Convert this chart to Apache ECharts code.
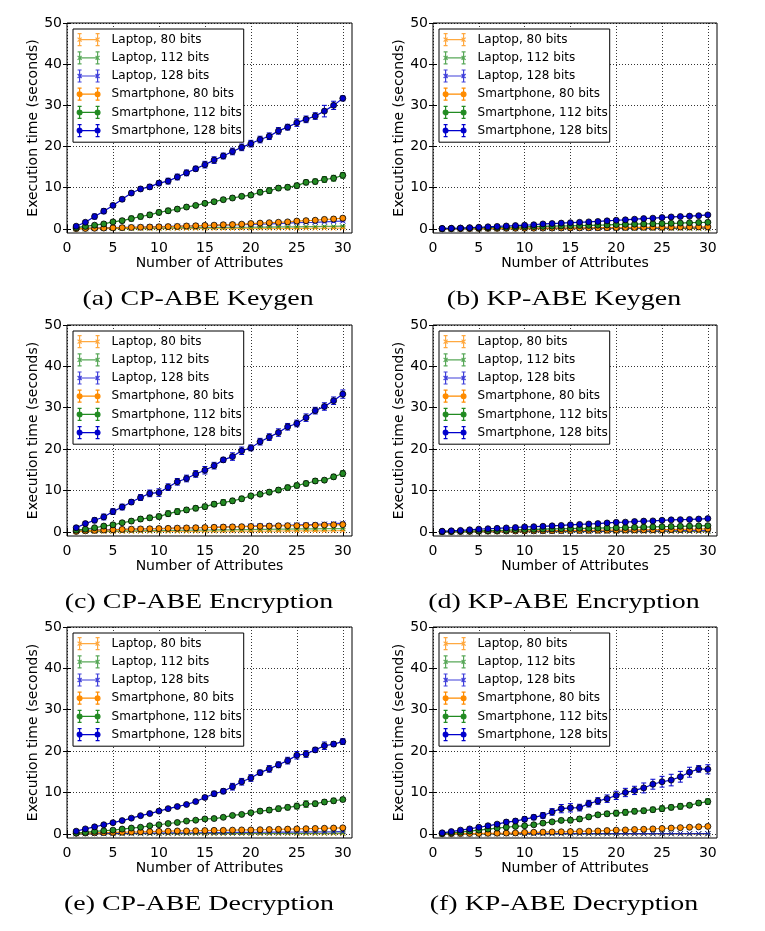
<!DOCTYPE html>
<html>
<head>
<meta charset="utf-8">
<script src="https://cdn.jsdelivr.net/npm/echarts@6/dist/echarts.min.js"></script>
<style>
  html, body { margin: 0; padding: 0; background: #fff; }
  #chart { width: 765px; height: 931px; }
</style>
</head>
<body>
<div id="chart"></div>
<script>
(function () {
  // x values (number of attributes)
  var attrs = [1, 2, 3, 4, 5, 6, 7, 8, 9, 10, 11, 12, 13, 14, 15, 16, 17, 18, 19, 20, 21, 22, 23, 24, 25, 26, 27, 28, 29, 30];
  var xTicks = [0, 5, 10, 15, 20, 25, 30];
  var yTicks = [0, 10, 20, 30, 40, 50];
  var seriesNames = ["Laptop, 80 bits", "Laptop, 112 bits", "Laptop, 128 bits", "Smartphone, 80 bits", "Smartphone, 112 bits", "Smartphone, 128 bits"];
  var captions = ["(a) CP-ABE Keygen", "(b) KP-ABE Keygen", "(c) CP-ABE Encryption", "(d) KP-ABE Encryption", "(e) CP-ABE Decryption", "(f) KP-ABE Decryption"];

  // (a) CP-ABE Keygen
  var aLap80 = [0.02, 0.02, 0.03, 0.03, 0.04, 0.04, 0.05, 0.05, 0.06, 0.06, 0.07, 0.07, 0.08, 0.08, 0.09, 0.09, 0.1, 0.1, 0.11, 0.11, 0.12, 0.12, 0.13, 0.13, 0.14, 0.14, 0.15, 0.15, 0.16, 0.17];
  var aLap112 = [0.05, 0.05, 0.1, 0.1, 0.1, 0.15, 0.15, 0.2, 0.2, 0.2, 0.25, 0.25, 0.3, 0.3, 0.3, 0.35, 0.35, 0.4, 0.4, 0.4, 0.45, 0.45, 0.5, 0.5, 0.5, 0.55, 0.55, 0.6, 0.6, 0.65];
  var aLap128 = [0.1, 0.15, 0.2, 0.25, 0.3, 0.35, 0.4, 0.45, 0.5, 0.55, 0.6, 0.65, 0.7, 0.75, 0.8, 0.85, 0.9, 0.95, 1.0, 1.1, 1.15, 1.2, 1.3, 1.4, 1.5, 1.55, 1.6, 1.7, 1.8, 1.9];
  var aPhone80 = [0.05, 0.1, 0.15, 0.2, 0.25, 0.3, 0.35, 0.4, 0.45, 0.5, 0.55, 0.6, 0.7, 0.75, 0.85, 0.9, 1.0, 1.05, 1.15, 1.3, 1.4, 1.5, 1.6, 1.7, 1.9, 2.0, 2.1, 2.3, 2.4, 2.6];
  var aPhone112 = [0.3, 0.6, 0.9, 1.2, 1.7, 2.0, 2.5, 3.0, 3.4, 4.0, 4.4, 4.8, 5.3, 5.7, 6.2, 6.6, 7.1, 7.5, 7.9, 8.2, 8.9, 9.3, 9.9, 10.1, 10.5, 11.3, 11.5, 12.0, 12.3, 13.0];
  var aPhone128 = [0.65, 1.6, 3.0, 4.3, 5.7, 7.2, 8.7, 9.7, 10.2, 11.1, 11.6, 12.6, 13.6, 14.6, 15.6, 16.7, 17.7, 18.8, 19.8, 20.7, 21.7, 22.5, 23.8, 24.7, 25.8, 26.6, 27.4, 28.6, 30.0, 31.7];
  var aLap80Err = [0.05, 0.05, 0.05, 0.05, 0.05, 0.05, 0.05, 0.05, 0.05, 0.05, 0.05, 0.05, 0.05, 0.05, 0.05, 0.05, 0.05, 0.05, 0.05, 0.05, 0.05, 0.05, 0.05, 0.05, 0.05, 0.05, 0.05, 0.05, 0.05, 0.05];
  var aLap112Err = [0.05, 0.05, 0.05, 0.05, 0.05, 0.05, 0.1, 0.1, 0.1, 0.1, 0.1, 0.1, 0.1, 0.1, 0.1, 0.1, 0.1, 0.1, 0.1, 0.1, 0.1, 0.1, 0.1, 0.1, 0.1, 0.1, 0.1, 0.1, 0.1, 0.1];
  var aLap128Err = [0.05, 0.05, 0.05, 0.1, 0.1, 0.1, 0.1, 0.1, 0.1, 0.1, 0.1, 0.1, 0.1, 0.1, 0.1, 0.15, 0.15, 0.15, 0.15, 0.15, 0.15, 0.15, 0.15, 0.2, 0.2, 0.2, 0.2, 0.2, 0.2, 0.2];
  var aPhone80Err = [0.1, 0.1, 0.1, 0.1, 0.1, 0.1, 0.1, 0.15, 0.15, 0.15, 0.15, 0.15, 0.2, 0.2, 0.2, 0.2, 0.2, 0.2, 0.25, 0.25, 0.3, 0.3, 0.3, 0.3, 0.4, 0.4, 0.4, 0.5, 0.5, 0.5];
  var aPhone112Err = [0.2, 0.3, 0.4, 0.4, 0.4, 0.5, 0.6, 0.6, 0.6, 0.6, 0.6, 0.5, 0.5, 0.4, 0.5, 0.5, 0.5, 0.5, 0.5, 0.5, 0.6, 0.7, 0.6, 0.6, 0.6, 0.6, 0.6, 0.7, 0.7, 0.7];
  var aPhone128Err = [0.3, 0.4, 0.6, 0.6, 0.5, 0.5, 0.5, 0.5, 0.6, 0.6, 0.7, 0.7, 0.7, 0.6, 0.8, 0.8, 0.7, 0.8, 0.8, 0.8, 0.8, 0.8, 0.8, 0.7, 0.9, 0.8, 0.8, 1.4, 1.0, 0.6];

  // (b) KP-ABE Keygen
  var bLap80 = [0.01, 0.01, 0.01, 0.01, 0.01, 0.02, 0.02, 0.02, 0.02, 0.02, 0.03, 0.03, 0.03, 0.03, 0.03, 0.04, 0.04, 0.04, 0.04, 0.04, 0.05, 0.05, 0.05, 0.05, 0.05, 0.06, 0.06, 0.06, 0.06, 0.06];
  var bLap112 = [0.01, 0.01, 0.02, 0.02, 0.03, 0.03, 0.04, 0.04, 0.05, 0.05, 0.06, 0.06, 0.07, 0.07, 0.08, 0.08, 0.09, 0.09, 0.1, 0.1, 0.11, 0.11, 0.12, 0.12, 0.13, 0.13, 0.14, 0.14, 0.15, 0.15];
  var bLap128 = [0.01, 0.02, 0.03, 0.04, 0.05, 0.06, 0.07, 0.08, 0.09, 0.1, 0.11, 0.12, 0.13, 0.14, 0.15, 0.16, 0.17, 0.18, 0.19, 0.2, 0.21, 0.22, 0.23, 0.24, 0.25, 0.26, 0.27, 0.28, 0.29, 0.3];
  var bPhone80 = [0.02, 0.03, 0.05, 0.06, 0.08, 0.1, 0.11, 0.13, 0.14, 0.16, 0.17, 0.19, 0.2, 0.22, 0.24, 0.25, 0.27, 0.29, 0.3, 0.32, 0.34, 0.35, 0.37, 0.39, 0.4, 0.42, 0.44, 0.46, 0.48, 0.5];
  var bPhone112 = [0.05, 0.1, 0.15, 0.2, 0.25, 0.3, 0.35, 0.4, 0.45, 0.5, 0.55, 0.6, 0.65, 0.7, 0.75, 0.8, 0.85, 0.9, 0.95, 1.05, 1.1, 1.15, 1.2, 1.25, 1.3, 1.35, 1.4, 1.5, 1.55, 1.6];
  var bPhone128 = [0.1, 0.15, 0.2, 0.3, 0.4, 0.5, 0.6, 0.7, 0.8, 0.9, 1.0, 1.2, 1.3, 1.4, 1.5, 1.6, 1.7, 1.8, 1.95, 2.1, 2.2, 2.35, 2.5, 2.6, 2.75, 2.9, 3.0, 3.1, 3.2, 3.4];
  var bLap80Err = [0.02, 0.02, 0.02, 0.02, 0.02, 0.02, 0.02, 0.02, 0.02, 0.02, 0.02, 0.02, 0.02, 0.02, 0.02, 0.02, 0.02, 0.02, 0.02, 0.02, 0.02, 0.02, 0.02, 0.02, 0.02, 0.02, 0.02, 0.02, 0.02, 0.02];
  var bLap112Err = [0.02, 0.02, 0.02, 0.02, 0.02, 0.03, 0.03, 0.03, 0.03, 0.03, 0.03, 0.03, 0.03, 0.03, 0.03, 0.04, 0.04, 0.04, 0.04, 0.04, 0.04, 0.04, 0.04, 0.04, 0.04, 0.05, 0.05, 0.05, 0.05, 0.05];
  var bLap128Err = [0.02, 0.02, 0.03, 0.03, 0.03, 0.03, 0.04, 0.04, 0.04, 0.04, 0.05, 0.05, 0.05, 0.05, 0.05, 0.06, 0.06, 0.06, 0.06, 0.06, 0.07, 0.07, 0.07, 0.07, 0.07, 0.08, 0.08, 0.08, 0.08, 0.08];
  var bPhone80Err = [0.05, 0.05, 0.05, 0.05, 0.05, 0.05, 0.05, 0.05, 0.05, 0.05, 0.05, 0.05, 0.05, 0.05, 0.05, 0.1, 0.1, 0.1, 0.1, 0.1, 0.1, 0.1, 0.1, 0.1, 0.1, 0.1, 0.1, 0.1, 0.1, 0.1];
  var bPhone112Err = [0.05, 0.05, 0.05, 0.05, 0.05, 0.1, 0.1, 0.1, 0.1, 0.1, 0.1, 0.1, 0.1, 0.1, 0.1, 0.1, 0.1, 0.15, 0.15, 0.15, 0.15, 0.15, 0.15, 0.15, 0.15, 0.15, 0.2, 0.2, 0.2, 0.2];
  var bPhone128Err = [0.05, 0.05, 0.1, 0.1, 0.1, 0.1, 0.1, 0.1, 0.15, 0.15, 0.15, 0.15, 0.15, 0.15, 0.15, 0.15, 0.15, 0.2, 0.2, 0.2, 0.2, 0.2, 0.2, 0.2, 0.2, 0.2, 0.2, 0.2, 0.2, 0.25];

  // (c) CP-ABE Encryption
  var cLap80 = [0.03, 0.04, 0.05, 0.05, 0.06, 0.07, 0.08, 0.09, 0.1, 0.1, 0.11, 0.12, 0.13, 0.14, 0.15, 0.15, 0.16, 0.17, 0.18, 0.19, 0.2, 0.2, 0.21, 0.22, 0.23, 0.24, 0.25, 0.26, 0.27, 0.28];
  var cLap112 = [0.1, 0.12, 0.15, 0.17, 0.2, 0.22, 0.25, 0.27, 0.3, 0.32, 0.35, 0.37, 0.4, 0.42, 0.45, 0.47, 0.5, 0.52, 0.55, 0.57, 0.6, 0.62, 0.65, 0.67, 0.7, 0.72, 0.74, 0.76, 0.78, 0.8];
  var cLap128 = [0.3, 0.4, 0.45, 0.5, 0.55, 0.6, 0.65, 0.7, 0.75, 0.8, 0.85, 0.9, 0.95, 1.0, 1.05, 1.1, 1.2, 1.25, 1.3, 1.4, 1.45, 1.5, 1.55, 1.6, 1.7, 1.75, 1.8, 1.9, 2.0, 2.1];
  var cPhone80 = [0.1, 0.25, 0.35, 0.45, 0.5, 0.6, 0.65, 0.7, 0.75, 0.8, 0.85, 0.9, 0.95, 1.0, 1.05, 1.1, 1.15, 1.2, 1.25, 1.3, 1.35, 1.4, 1.45, 1.5, 1.5, 1.55, 1.6, 1.65, 1.7, 1.75];
  var cPhone112 = [0.4, 0.65, 1.0, 1.4, 1.7, 2.2, 2.6, 3.1, 3.4, 3.7, 4.4, 4.9, 5.3, 5.7, 6.1, 6.7, 7.1, 7.5, 8.0, 8.7, 9.1, 9.6, 10.1, 10.7, 11.2, 11.7, 12.3, 12.5, 13.3, 14.1];
  var cPhone128 = [1.0, 2.0, 2.8, 3.6, 4.9, 6.0, 7.2, 8.3, 9.3, 9.5, 10.8, 12.1, 12.9, 14.0, 14.9, 16.0, 17.4, 18.2, 19.6, 20.3, 21.8, 22.9, 24.0, 25.4, 26.2, 27.6, 29.3, 30.3, 31.7, 33.3];
  var cLap80Err = [0.05, 0.05, 0.05, 0.05, 0.05, 0.05, 0.05, 0.05, 0.05, 0.05, 0.05, 0.05, 0.05, 0.05, 0.05, 0.05, 0.05, 0.05, 0.05, 0.05, 0.05, 0.05, 0.05, 0.05, 0.05, 0.05, 0.05, 0.05, 0.05, 0.05];
  var cLap112Err = [0.05, 0.05, 0.05, 0.05, 0.05, 0.1, 0.1, 0.1, 0.1, 0.1, 0.1, 0.1, 0.1, 0.1, 0.1, 0.1, 0.1, 0.1, 0.1, 0.1, 0.1, 0.1, 0.1, 0.1, 0.1, 0.1, 0.1, 0.1, 0.1, 0.1];
  var cLap128Err = [0.1, 0.1, 0.1, 0.1, 0.1, 0.1, 0.1, 0.1, 0.1, 0.1, 0.15, 0.15, 0.15, 0.15, 0.15, 0.15, 0.15, 0.15, 0.15, 0.15, 0.2, 0.2, 0.2, 0.2, 0.2, 0.2, 0.2, 0.2, 0.2, 0.2];
  var cPhone80Err = [0.1, 0.1, 0.1, 0.1, 0.1, 0.15, 0.15, 0.15, 0.15, 0.15, 0.15, 0.15, 0.15, 0.15, 0.15, 0.15, 0.2, 0.2, 0.2, 0.2, 0.2, 0.2, 0.2, 0.2, 0.2, 0.2, 0.2, 0.2, 0.2, 0.2];
  var cPhone112Err = [0.2, 0.3, 0.3, 0.4, 0.4, 0.4, 0.5, 0.6, 0.6, 0.6, 0.7, 0.7, 0.6, 0.6, 0.6, 0.6, 0.7, 0.6, 0.6, 0.5, 0.5, 0.6, 0.6, 0.6, 0.6, 0.6, 0.6, 0.5, 0.6, 0.7];
  var cPhone128Err = [0.4, 0.5, 0.6, 0.7, 0.7, 0.7, 0.6, 0.7, 0.8, 0.9, 0.8, 0.8, 0.8, 0.8, 0.9, 0.8, 0.6, 0.9, 0.9, 0.7, 0.8, 0.8, 0.9, 0.8, 0.8, 0.9, 0.8, 0.9, 0.9, 1.0];

  // (d) KP-ABE Encryption
  var dLap80 = [0.01, 0.01, 0.01, 0.01, 0.02, 0.02, 0.02, 0.02, 0.02, 0.03, 0.03, 0.03, 0.03, 0.03, 0.04, 0.04, 0.04, 0.04, 0.04, 0.05, 0.05, 0.05, 0.05, 0.05, 0.06, 0.06, 0.06, 0.06, 0.06, 0.07];
  var dLap112 = [0.01, 0.01, 0.02, 0.02, 0.03, 0.03, 0.04, 0.04, 0.05, 0.05, 0.06, 0.06, 0.07, 0.07, 0.08, 0.08, 0.09, 0.09, 0.1, 0.1, 0.11, 0.11, 0.12, 0.12, 0.13, 0.13, 0.14, 0.14, 0.15, 0.15];
  var dLap128 = [0.02, 0.03, 0.04, 0.05, 0.06, 0.07, 0.08, 0.09, 0.1, 0.11, 0.12, 0.13, 0.14, 0.15, 0.16, 0.17, 0.18, 0.19, 0.2, 0.21, 0.22, 0.23, 0.24, 0.25, 0.26, 0.27, 0.28, 0.29, 0.3, 0.31];
  var dPhone80 = [0.05, 0.07, 0.09, 0.11, 0.13, 0.15, 0.17, 0.19, 0.21, 0.23, 0.25, 0.27, 0.29, 0.31, 0.33, 0.35, 0.37, 0.39, 0.41, 0.43, 0.45, 0.47, 0.49, 0.51, 0.53, 0.56, 0.6, 0.63, 0.66, 0.7];
  var dPhone112 = [0.05, 0.1, 0.15, 0.2, 0.25, 0.3, 0.35, 0.4, 0.5, 0.55, 0.6, 0.65, 0.7, 0.75, 0.8, 0.85, 0.85, 0.9, 0.95, 1.0, 1.05, 1.1, 1.15, 1.2, 1.25, 1.3, 1.35, 1.4, 1.45, 1.5];
  var dPhone128 = [0.15, 0.25, 0.35, 0.5, 0.65, 0.75, 0.85, 0.95, 1.05, 1.2, 1.25, 1.35, 1.45, 1.55, 1.7, 1.8, 1.9, 2.0, 2.15, 2.3, 2.35, 2.5, 2.6, 2.65, 2.8, 2.9, 2.95, 3.0, 3.1, 3.2];
  var dLap80Err = [0.02, 0.02, 0.02, 0.02, 0.02, 0.02, 0.02, 0.02, 0.02, 0.02, 0.02, 0.02, 0.02, 0.02, 0.02, 0.02, 0.02, 0.02, 0.02, 0.02, 0.02, 0.02, 0.02, 0.02, 0.02, 0.02, 0.02, 0.02, 0.02, 0.02];
  var dLap112Err = [0.02, 0.02, 0.02, 0.02, 0.02, 0.03, 0.03, 0.03, 0.03, 0.03, 0.03, 0.03, 0.03, 0.03, 0.03, 0.04, 0.04, 0.04, 0.04, 0.04, 0.04, 0.04, 0.04, 0.04, 0.04, 0.05, 0.05, 0.05, 0.05, 0.05];
  var dLap128Err = [0.02, 0.02, 0.03, 0.03, 0.03, 0.03, 0.04, 0.04, 0.04, 0.04, 0.05, 0.05, 0.05, 0.05, 0.05, 0.06, 0.06, 0.06, 0.06, 0.06, 0.07, 0.07, 0.07, 0.07, 0.07, 0.08, 0.08, 0.08, 0.08, 0.08];
  var dPhone80Err = [0.05, 0.05, 0.05, 0.05, 0.05, 0.05, 0.05, 0.05, 0.05, 0.05, 0.05, 0.05, 0.05, 0.05, 0.05, 0.1, 0.1, 0.1, 0.1, 0.1, 0.1, 0.1, 0.1, 0.1, 0.1, 0.1, 0.1, 0.1, 0.1, 0.1];
  var dPhone112Err = [0.05, 0.05, 0.05, 0.05, 0.05, 0.1, 0.1, 0.1, 0.1, 0.1, 0.1, 0.1, 0.1, 0.1, 0.1, 0.1, 0.1, 0.15, 0.15, 0.15, 0.15, 0.15, 0.15, 0.15, 0.15, 0.15, 0.2, 0.2, 0.2, 0.2];
  var dPhone128Err = [0.05, 0.05, 0.1, 0.1, 0.1, 0.1, 0.1, 0.1, 0.15, 0.15, 0.15, 0.15, 0.15, 0.15, 0.15, 0.15, 0.15, 0.2, 0.2, 0.2, 0.2, 0.2, 0.2, 0.2, 0.2, 0.2, 0.2, 0.2, 0.2, 0.25];

  // (e) CP-ABE Decryption
  var eLap80 = [0.01, 0.01, 0.01, 0.02, 0.02, 0.02, 0.02, 0.03, 0.03, 0.03, 0.03, 0.03, 0.04, 0.04, 0.04, 0.04, 0.04, 0.05, 0.05, 0.05, 0.05, 0.05, 0.05, 0.06, 0.06, 0.06, 0.06, 0.06, 0.06, 0.07];
  var eLap112 = [0.02, 0.02, 0.03, 0.03, 0.04, 0.04, 0.05, 0.05, 0.06, 0.06, 0.07, 0.07, 0.08, 0.08, 0.09, 0.09, 0.1, 0.1, 0.11, 0.11, 0.12, 0.12, 0.13, 0.13, 0.14, 0.14, 0.15, 0.15, 0.16, 0.16];
  var eLap128 = [0.05, 0.06, 0.08, 0.1, 0.12, 0.14, 0.15, 0.17, 0.19, 0.2, 0.22, 0.24, 0.25, 0.27, 0.29, 0.3, 0.32, 0.34, 0.35, 0.37, 0.39, 0.4, 0.42, 0.44, 0.45, 0.47, 0.49, 0.5, 0.52, 0.55];
  var ePhone80 = [0.15, 0.2, 0.25, 0.3, 0.35, 0.4, 0.45, 0.5, 0.55, 0.6, 0.65, 0.7, 0.7, 0.75, 0.8, 0.85, 0.85, 0.9, 0.95, 0.95, 1.0, 1.05, 1.1, 1.15, 1.2, 1.25, 1.3, 1.35, 1.4, 1.45];
  var ePhone112 = [0.2, 0.35, 0.6, 0.75, 0.9, 1.15, 1.4, 1.6, 1.95, 2.2, 2.5, 2.75, 3.1, 3.3, 3.6, 3.7, 4.0, 4.45, 4.7, 5.1, 5.5, 5.75, 6.1, 6.4, 6.7, 7.2, 7.3, 7.7, 8.0, 8.3];
  var ePhone128 = [0.65, 1.2, 1.7, 2.2, 2.7, 3.2, 3.8, 4.4, 4.9, 5.5, 6.1, 6.6, 7.1, 7.8, 8.8, 9.7, 10.3, 11.4, 12.6, 13.5, 14.8, 15.7, 16.7, 17.7, 19.0, 19.3, 20.3, 21.3, 21.7, 22.3];
  var eLap80Err = [0.02, 0.02, 0.02, 0.02, 0.02, 0.02, 0.02, 0.02, 0.02, 0.02, 0.02, 0.02, 0.02, 0.02, 0.02, 0.02, 0.02, 0.02, 0.02, 0.02, 0.02, 0.02, 0.02, 0.02, 0.02, 0.02, 0.02, 0.02, 0.02, 0.02];
  var eLap112Err = [0.02, 0.02, 0.02, 0.02, 0.02, 0.03, 0.03, 0.03, 0.03, 0.03, 0.03, 0.03, 0.03, 0.03, 0.03, 0.04, 0.04, 0.04, 0.04, 0.04, 0.04, 0.04, 0.04, 0.04, 0.04, 0.05, 0.05, 0.05, 0.05, 0.05];
  var eLap128Err = [0.05, 0.05, 0.05, 0.05, 0.05, 0.05, 0.05, 0.05, 0.05, 0.05, 0.1, 0.1, 0.1, 0.1, 0.1, 0.1, 0.1, 0.1, 0.1, 0.1, 0.1, 0.1, 0.1, 0.1, 0.1, 0.1, 0.1, 0.1, 0.1, 0.1];
  var ePhone80Err = [0.05, 0.05, 0.05, 0.1, 0.1, 0.1, 0.1, 0.1, 0.1, 0.1, 0.1, 0.1, 0.1, 0.15, 0.15, 0.15, 0.15, 0.15, 0.15, 0.15, 0.2, 0.2, 0.2, 0.2, 0.2, 0.2, 0.2, 0.2, 0.2, 0.2];
  var ePhone112Err = [0.1, 0.1, 0.2, 0.2, 0.2, 0.2, 0.2, 0.2, 0.2, 0.3, 0.3, 0.3, 0.3, 0.3, 0.4, 0.3, 0.3, 0.3, 0.4, 0.4, 0.5, 0.6, 0.6, 0.6, 0.7, 0.8, 0.6, 0.6, 0.6, 0.5];
  var ePhone128Err = [0.3, 0.3, 0.3, 0.3, 0.3, 0.3, 0.3, 0.3, 0.3, 0.3, 0.3, 0.3, 0.3, 0.3, 0.4, 0.6, 0.6, 0.8, 0.8, 0.8, 0.6, 0.8, 0.7, 0.8, 0.9, 0.8, 0.6, 0.9, 0.6, 0.7];

  // (f) KP-ABE Decryption
  var fLap80 = [0.01, 0.01, 0.01, 0.01, 0.01, 0.01, 0.01, 0.01, 0.01, 0.01, 0.01, 0.01, 0.01, 0.01, 0.01, 0.01, 0.01, 0.01, 0.01, 0.01, 0.01, 0.01, 0.01, 0.01, 0.01, 0.01, 0.01, 0.01, 0.01, 0.01];
  var fLap112 = [0.02, 0.02, 0.02, 0.02, 0.02, 0.02, 0.02, 0.02, 0.02, 0.02, 0.02, 0.02, 0.02, 0.02, 0.02, 0.02, 0.02, 0.02, 0.02, 0.02, 0.03, 0.03, 0.03, 0.03, 0.03, 0.03, 0.03, 0.03, 0.03, 0.03];
  var fLap128 = [0.03, 0.03, 0.03, 0.03, 0.03, 0.04, 0.04, 0.04, 0.04, 0.04, 0.04, 0.04, 0.04, 0.04, 0.04, 0.05, 0.05, 0.05, 0.05, 0.05, 0.05, 0.05, 0.05, 0.05, 0.05, 0.06, 0.06, 0.06, 0.06, 0.06];
  var fPhone80 = [0.02, 0.04, 0.06, 0.08, 0.1, 0.12, 0.15, 0.18, 0.22, 0.35, 0.38, 0.42, 0.46, 0.5, 0.55, 0.6, 0.65, 0.7, 0.8, 0.9, 0.95, 1.05, 1.1, 1.2, 1.3, 1.4, 1.5, 1.6, 1.7, 1.8];
  var fPhone112 = [0.1, 0.25, 0.4, 0.65, 0.9, 1.15, 1.4, 1.6, 1.8, 1.95, 2.2, 2.6, 2.9, 3.25, 3.3, 3.6, 4.1, 4.6, 4.85, 5.0, 5.2, 5.45, 5.6, 5.85, 6.1, 6.4, 6.65, 6.9, 7.45, 7.8];
  var fPhone128 = [0.25, 0.55, 0.9, 1.2, 1.6, 1.95, 2.35, 2.85, 3.1, 3.55, 4.0, 4.45, 5.3, 6.1, 6.3, 6.35, 7.3, 7.95, 8.5, 9.3, 10.0, 10.5, 11.1, 12.0, 12.6, 13.0, 13.8, 14.9, 15.7, 15.6];
  var fLap80Err = [0.01, 0.01, 0.01, 0.01, 0.01, 0.01, 0.01, 0.01, 0.01, 0.01, 0.01, 0.01, 0.01, 0.01, 0.01, 0.01, 0.01, 0.01, 0.01, 0.01, 0.01, 0.01, 0.01, 0.01, 0.01, 0.01, 0.01, 0.01, 0.01, 0.01];
  var fLap112Err = [0.02, 0.02, 0.02, 0.02, 0.02, 0.02, 0.02, 0.02, 0.02, 0.02, 0.02, 0.02, 0.02, 0.02, 0.02, 0.02, 0.02, 0.02, 0.02, 0.02, 0.02, 0.02, 0.02, 0.02, 0.02, 0.02, 0.02, 0.02, 0.02, 0.02];
  var fLap128Err = [0.02, 0.02, 0.02, 0.02, 0.02, 0.03, 0.03, 0.03, 0.03, 0.03, 0.03, 0.03, 0.03, 0.03, 0.03, 0.03, 0.03, 0.03, 0.03, 0.03, 0.03, 0.03, 0.03, 0.03, 0.03, 0.03, 0.03, 0.03, 0.03, 0.03];
  var fPhone80Err = [0.02, 0.02, 0.03, 0.03, 0.05, 0.05, 0.05, 0.05, 0.05, 0.1, 0.1, 0.1, 0.1, 0.1, 0.1, 0.1, 0.1, 0.1, 0.15, 0.15, 0.15, 0.15, 0.15, 0.15, 0.2, 0.2, 0.2, 0.2, 0.2, 0.2];
  var fPhone112Err = [0.1, 0.1, 0.2, 0.2, 0.3, 0.3, 0.3, 0.3, 0.3, 0.3, 0.4, 0.4, 0.4, 0.5, 0.6, 0.6, 0.5, 0.5, 0.6, 0.7, 0.7, 0.6, 0.6, 0.6, 0.7, 0.6, 0.7, 0.5, 0.6, 0.7];
  var fPhone128Err = [0.2, 0.3, 0.3, 0.4, 0.4, 0.4, 0.4, 0.5, 0.5, 0.6, 0.6, 0.7, 0.8, 1.0, 1.0, 0.8, 0.8, 0.8, 0.9, 1.0, 1.0, 1.0, 1.2, 1.2, 1.3, 1.4, 1.3, 1.2, 0.8, 1.1];

  var panelValues = [
    [aLap80, aLap112, aLap128, aPhone80, aPhone112, aPhone128],
    [bLap80, bLap112, bLap128, bPhone80, bPhone112, bPhone128],
    [cLap80, cLap112, cLap128, cPhone80, cPhone112, cPhone128],
    [dLap80, dLap112, dLap128, dPhone80, dPhone112, dPhone128],
    [eLap80, eLap112, eLap128, ePhone80, ePhone112, ePhone128],
    [fLap80, fLap112, fLap128, fPhone80, fPhone112, fPhone128]
  ];
  var panelErrors = [
    [aLap80Err, aLap112Err, aLap128Err, aPhone80Err, aPhone112Err, aPhone128Err],
    [bLap80Err, bLap112Err, bLap128Err, bPhone80Err, bPhone112Err, bPhone128Err],
    [cLap80Err, cLap112Err, cLap128Err, cPhone80Err, cPhone112Err, cPhone128Err],
    [dLap80Err, dLap112Err, dLap128Err, dPhone80Err, dPhone112Err, dPhone128Err],
    [eLap80Err, eLap112Err, eLap128Err, ePhone80Err, ePhone112Err, ePhone128Err],
    [fLap80Err, fLap112Err, fLap128Err, fPhone80Err, fPhone112Err, fPhone128Err]
  ];

  // layout
  var gridBoxes = [
    [67, 23, 285, 210], [433, 23, 284, 210],
    [67, 325, 285, 211], [433, 325, 284, 211],
    [67, 627, 285, 211], [433, 627, 284, 211]
  ];
  var captionPos = [[198, 299], [564, 299], [199, 602], [564, 602], [199, 904], [564, 904]];
  var colors = ["#ff8c00", "#228b22", "#0000cd"];
  var sans = "DejaVu Sans";

  var xMark = "path://M0,0L10,10M10,0L0,10";
  var boxPts = "M0,0L0,0M30,14L30,14";
  var barsIcon = "M3,7L21,7M3,1L3,13M1,1L5,1M1,13L5,13M21,1L21,13M19,1L23,1M19,13L23,13";
  var phoneIcon = "path://" + boxPts + barsIcon +
    "M0.6,7A2.4,2.4 0 1,0 5.4,7A2.4,2.4 0 1,0 0.6,7Z" +
    "M18.6,7A2.4,2.4 0 1,0 23.4,7A2.4,2.4 0 1,0 18.6,7Z";
  var lapIcon = "path://" + boxPts + barsIcon + "M1,5L5,9M1,9L5,5M19,5L23,9M19,9L23,5";

  function errorBar(color, alpha) {
    return function (params, api) {
      var x = api.value(0), y = api.value(1), e = api.value(2);
      var lo = api.coord([x, y - e]);
      var hi = api.coord([x, y + e]);
      var h = 2.5;
      var st = { stroke: color, lineWidth: 1, opacity: alpha };
      return {
        type: "group",
        children: [
          { type: "line", shape: { x1: lo[0], y1: lo[1], x2: hi[0], y2: hi[1] }, style: st },
          { type: "line", shape: { x1: lo[0] - h, y1: lo[1], x2: lo[0] + h, y2: lo[1] }, style: st },
          { type: "line", shape: { x1: hi[0] - h, y1: hi[1], x2: hi[0] + h, y2: hi[1] }, style: st }
        ]
      };
    };
  }

  var grids = [], xAxes = [], yAxes = [], series = [], legends = [], graphics = [];
  var gridLine = { show: true, lineStyle: { type: [1, 2], color: "#000", width: 0.8 } };
  var inTick = { show: true, inside: true, length: 4, lineStyle: { color: "#000", width: 1 } };

  panelValues.forEach(function (vals, i) {
    var g = gridBoxes[i];
    grids.push({
      left: g[0], top: g[1], width: g[2], height: g[3],
      show: true, borderColor: "#000", borderWidth: 1, backgroundColor: "transparent"
    });
    xAxes.push({
      gridIndex: i, type: "value", min: 0, max: 31, position: "bottom",
      name: "Number of Attributes", nameLocation: "middle", nameGap: 21,
      nameTextStyle: { fontFamily: sans, fontSize: 14, color: "#000" },
      axisLine: { show: false },
      axisTick: Object.assign({ customValues: xTicks }, inTick),
      axisLabel: { customValues: xTicks, margin: 8, fontFamily: sans, fontSize: 14, color: "#000" },
      splitLine: gridLine
    });
    xAxes.push({
      gridIndex: i, type: "value", min: 0, max: 31, position: "top",
      axisLine: { show: false },
      axisTick: Object.assign({ customValues: xTicks }, inTick),
      axisLabel: { show: false }, splitLine: { show: false }
    });
    yAxes.push({
      gridIndex: i, type: "value", min: -1, max: 50, position: "left",
      name: "Execution time (seconds)", nameLocation: "middle", nameGap: 22,
      nameTextStyle: { fontFamily: sans, fontSize: 14, color: "#000" },
      axisLine: { show: false },
      axisTick: Object.assign({ customValues: yTicks }, inTick),
      axisLabel: { customValues: yTicks, margin: 5, fontFamily: sans, fontSize: 14, color: "#000" },
      splitLine: gridLine
    });
    yAxes.push({
      gridIndex: i, type: "value", min: -1, max: 50, position: "right",
      axisLine: { show: false },
      axisTick: Object.assign({ customValues: yTicks }, inTick),
      axisLabel: { show: false }, splitLine: { show: false }
    });

    var legendData = [];
    vals.forEach(function (v, k) {
      var c = colors[k % 3];
      var phone = k >= 3;
      var errs = panelErrors[i][k];
      series.push({
        name: seriesNames[k], type: "line",
        xAxisIndex: 2 * i, yAxisIndex: 2 * i,
        data: attrs.map(function (a, j) { return [a, v[j]]; }),
        symbol: phone ? "circle" : xMark,
        symbolSize: phone ? 6 : 5,
        showAllSymbol: true, clip: false, silent: true,
        lineStyle: { color: c, width: 1.2, opacity: phone ? 1 : 0.75 },
        itemStyle: phone
          ? { color: c, borderColor: "#000", borderWidth: 0.8 }
          : { color: c, borderColor: c, borderWidth: 1, opacity: 0.8 },
        emphasis: { disabled: true }
      });
      series.push({
        name: seriesNames[k], type: "custom",
        xAxisIndex: 2 * i, yAxisIndex: 2 * i,
        data: attrs.map(function (a, j) { return [a, v[j], errs[j]]; }),
        encode: { x: 0, y: 1 },
        renderItem: errorBar(c, phone ? 1 : 0.8),
        clip: false, silent: true
      });
      legendData.push({
        name: seriesNames[k],
        icon: phone ? phoneIcon : lapIcon,
        itemStyle: { color: c, borderColor: c, borderWidth: 1.2, opacity: phone ? 1 : 0.75 }
      });
    });

    legends.push({
      orient: "vertical", left: g[0] + 6, top: g[1] + 6,
      itemWidth: 30, itemHeight: 14, itemGap: 3,
      padding: [3, 2, 4, 3],
      backgroundColor: "#fff", borderColor: "#000", borderWidth: 1, borderRadius: 0,
      selectedMode: false, symbolKeepAspect: true,
      textStyle: { fontFamily: sans, fontSize: 12, color: "#000" },
      data: legendData
    });

    graphics.push({
      type: "text", x: captionPos[i][0], y: captionPos[i][1], scaleX: 1.27,
      style: {
        text: captions[i], fontFamily: "Liberation Serif", fontSize: 22,
        fill: "#000", align: "center", verticalAlign: "middle"
      }
    });
  });

  var myChart = echarts.init(document.getElementById("chart"), null, { renderer: "canvas" });
  myChart.setOption({
    animation: false,
    backgroundColor: "#fff",
    grid: grids,
    xAxis: xAxes,
    yAxis: yAxes,
    legend: legends,
    graphic: graphics,
    series: series
  });
})();
</script>
</body>
</html>
